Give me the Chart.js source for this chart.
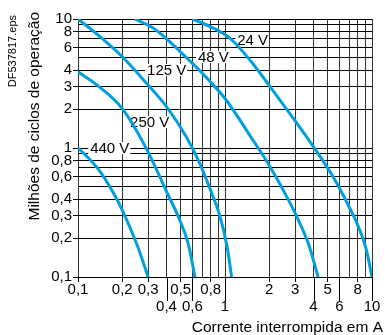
<!DOCTYPE html>
<html>
<head>
<meta charset="utf-8">
<script src="https://cdn.jsdelivr.net/npm/chart.js@4/dist/chart.umd.min.js"></script>
<style>
  html, body { margin: 0; padding: 0; background: #fff; }
  canvas { display: block; }
</style>
</head>
<body>
<canvas id="chart" width="385" height="335"></canvas>
<script>
// grid values (log axes, 0.1 .. 10)
const gridValues = [0.1, 0.2, 0.3, 0.4, 0.5, 0.6, 0.7, 0.8, 0.9, 1, 2, 3, 4, 5, 6, 7, 8, 9, 10];
const xTopLabels = [0.1, 0.2, 0.3, 0.5, 0.8, 2, 3, 5, 8];
const xLowLabels = [0.4, 0.6, 1, 4, 6, 10];
const yLabels = [0.1, 0.2, 0.3, 0.4, 0.6, 0.8, 1, 2, 3, 4, 6, 8, 10];

// curves: current (A) -> millions of cycles
const series = ['24 V', '48 V', '125 V', '250 V', '440 V'];
const x24 = [0.6, 0.8, 1.08, 1.5, 2.0, 3.0, 3.8, 5.2, 6.0, 6.9, 8.1, 9.2, 10];
const y24 = [10, 8.7, 7.1, 4.7, 3.05, 1.62, 1.11, 0.65, 0.49, 0.36, 0.244, 0.159, 0.1];
const x48 = [0.244, 0.325, 0.42, 0.52, 0.7, 1.0, 1.55, 2.02, 2.63, 3.05, 3.7, 4.3];
const y48 = [10, 8.5, 6.67, 5.3, 3.8, 2.42, 1.15, 0.72, 0.42, 0.3, 0.18, 0.1];
const x125 = [0.1, 0.141, 0.2, 0.293, 0.4, 0.55, 0.66, 0.81, 0.92, 1.03, 1.11];
const y125 = [10, 7.3, 5.1, 3.17, 2.09, 1.2, 0.8, 0.45, 0.3, 0.175, 0.1];
const x250 = [0.1, 0.141, 0.2, 0.293, 0.4, 0.49, 0.563, 0.625];
const y250 = [3.9, 2.95, 2.02, 0.98, 0.46, 0.28, 0.18, 0.1];
const x440 = [0.1, 0.121, 0.141, 0.17, 0.2, 0.251, 0.3];
const y440 = [1.0, 0.81, 0.66, 0.47, 0.33, 0.18, 0.1];

// where each voltage label sits (data units, left edge / middle)
const labelAt = [[1.21, 6.9], [0.655, 5.07], [0.295, 4.03], [0.226, 1.59], [0.121, 1.0]];

const FONT = '"Liberation Sans", Arial, Helvetica, sans-serif';
const BLUE = '#00a0e0';
const fmt = v => String(v).replace('.', ',');
const pts = (xs, ys) => xs.map((x, i) => ({ x: x, y: ys[i] }));
const setTicks = s => { s.ticks = gridValues.map(v => ({ value: v })); };

const curves = [[x24, y24], [x48, y48], [x125, y125], [x250, y250], [x440, y440]];

const extras = {
  id: 'extras',
  beforeDatasetsDraw(chart) {
    const { ctx, scales: { x, y } } = chart;
    ctx.save();
    ctx.font = '15px ' + FONT;
    ctx.textBaseline = 'middle';
    series.forEach((name, i) => {
      const px = x.getPixelForValue(labelAt[i][0]);
      const py = y.getPixelForValue(labelAt[i][1]);
      const w = ctx.measureText(name).width;
      ctx.fillStyle = '#fff';
      ctx.fillRect(px - 2, py - 6, w + 3, 12);
      ctx.fillStyle = '#000';
      ctx.fillText(name, px, py + 1);
    });
    ctx.restore();
  },
  afterDraw(chart) {
    const { ctx, scales: { x }, chartArea } = chart;
    ctx.save();
    // long ticks for the lower row of x labels
    ctx.strokeStyle = '#000';
    ctx.lineWidth = 1;
    xLowLabels.forEach(v => {
      const px = Math.round(x.getPixelForValue(v)) + 0.5;
      ctx.beginPath();
      ctx.moveTo(px, chartArea.bottom);
      ctx.lineTo(px, chartArea.bottom + 24);
      ctx.stroke();
    });
    ctx.fillStyle = '#000';
    ctx.font = '15.5px ' + FONT;
    ctx.textAlign = 'right';
    ctx.textBaseline = 'middle';
    ctx.fillText('Corrente interrompida em A', 383, 328);

    ctx.save();
    ctx.translate(35, 12);
    ctx.rotate(-Math.PI / 2);
    ctx.fillText('Milhões de ciclos de operação', 0, 0);
    ctx.restore();

    ctx.save();
    ctx.translate(13, 15);
    ctx.rotate(-Math.PI / 2);
    ctx.font = '11px ' + FONT;
    ctx.fillText('DF537817.eps', 0, 0);
    ctx.restore();
    ctx.restore();
  }
};

new Chart(document.getElementById('chart'), {
  type: 'scatter',
  data: {
    datasets: curves.map((c, i) => ({
      label: series[i],
      data: pts(c[0], c[1]),
      showLine: true,
      borderColor: BLUE,
      backgroundColor: BLUE,
      borderWidth: 3,
      pointRadius: 0,
      cubicInterpolationMode: 'monotone',
      fill: false
    }))
  },
  options: {
    responsive: false,
    animation: false,
    devicePixelRatio: 1,
    layout: { padding: { top: 19, right: 13, left: 0, bottom: 0 } },
    plugins: { legend: { display: false }, tooltip: { enabled: false } },
    scales: {
      x: {
        type: 'logarithmic',
        min: 0.1,
        max: 10,
        afterBuildTicks: setTicks,
        afterFit: s => { s.height = 58; },
        border: { display: false },
        grid: {
          color: '#333',
          lineWidth: 1,
          tickLength: 5,
          tickColor: c => (c.tick && xTopLabels.includes(c.tick.value)) ? '#000' : 'rgba(0,0,0,0)'
        },
        ticks: {
          autoSkip: false,
          maxRotation: 0,
          minRotation: 0,
          padding: 0,
          color: '#000',
          font: { family: FONT, size: 15, lineHeight: 1.1 },
          callback: v => xTopLabels.includes(v) ? fmt(v) : (xLowLabels.includes(v) ? ['', fmt(v)] : '')
        }
      },
      y: {
        type: 'logarithmic',
        min: 0.1,
        max: 10,
        afterBuildTicks: setTicks,
        afterFit: s => { s.width = 78; },
        border: { display: false },
        grid: {
          color: '#000',
          lineWidth: 1,
          tickLength: 5,
          tickColor: c => (c.tick && yLabels.includes(c.tick.value)) ? '#000' : 'rgba(0,0,0,0)'
        },
        ticks: {
          autoSkip: false,
          padding: 1,
          color: '#000',
          font: { family: FONT, size: 15 },
          callback: v => yLabels.includes(v) ? fmt(v) : ''
        }
      }
    }
  },
  plugins: [extras]
});
</script>
</body>
</html>
